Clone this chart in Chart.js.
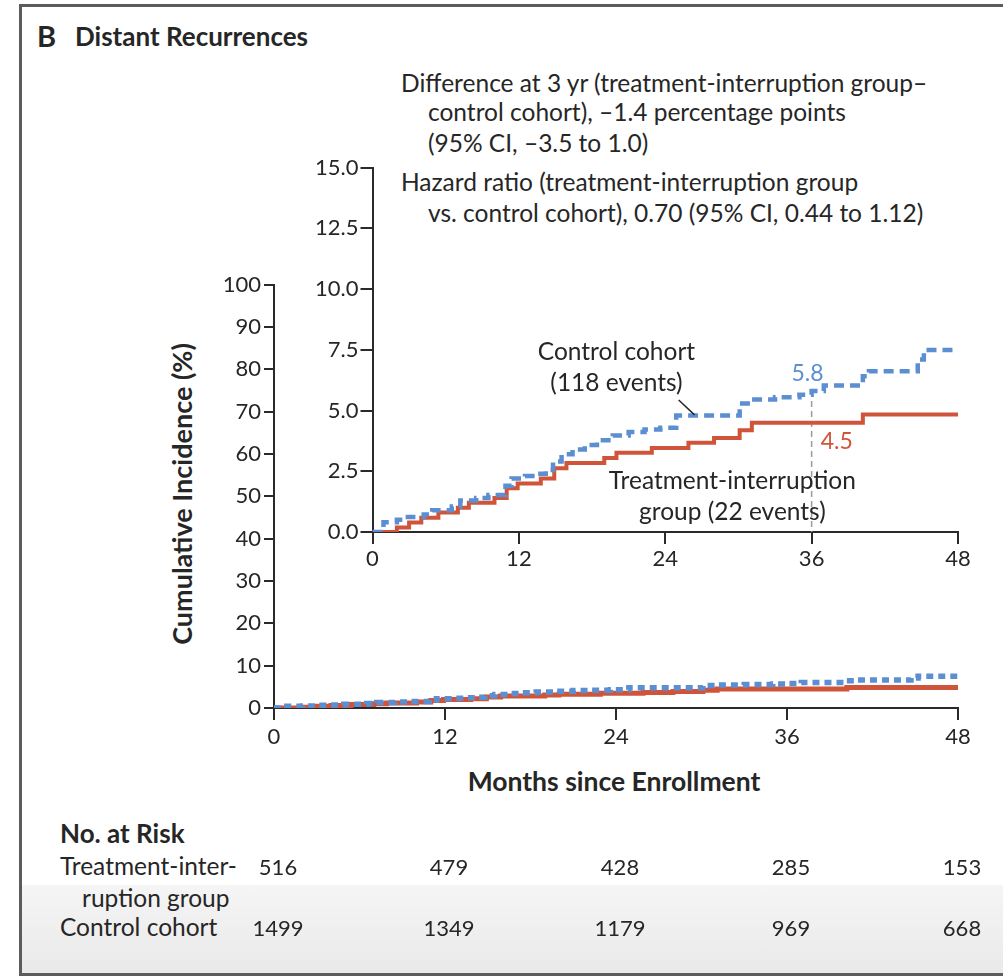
<!DOCTYPE html>
<html>
<head>
<meta charset="utf-8">
<title>Distant Recurrences</title>
<script src="https://cdn.jsdelivr.net/npm/chart.js@4.4.1/dist/chart.umd.min.js"></script>
<style>
  body { margin: 0; width: 1003px; height: 979px; position: relative; overflow: hidden; background: #fff;
         font-family: Lato, "Open Sans", sans-serif; color: #262626; }
  #frame { position: absolute; left: 19px; top: 4px; width: 1000px; height: 972px; box-sizing: border-box;
           border: 3px solid #5c5c5c; }
  #band { position: absolute; left: 22px; top: 885px; width: 990px; height: 88px;
          background: linear-gradient(#f5f5f5, #e9e9e9); }
  .t { position: absolute; white-space: nowrap; line-height: 1; }
  .note { font-size: 24.5px; }
  .row { font-size: 24.5px; }
  canvas { position: absolute; }
  #main { left: 0; top: 0; }
  #inset { left: 300px; top: 140px; }
</style>
</head>
<body>
<div id="band"></div>
<div id="frame"></div>

<div class="t" style="left:37px; top:21px; font-size:29px; font-weight:700;">B</div>
<div class="t" style="left:75px; top:23px; font-size:26px; font-weight:700;">Distant Recurrences</div>

<div class="t note" style="left:401px; top:71px;">Difference at 3 yr (treatment-interruption group–</div>
<div class="t note" style="left:428px; top:100px;">control cohort), –1.4 percentage points</div>
<div class="t note" style="left:428px; top:131px;">(95% CI, –3.5 to 1.0)</div>
<div class="t note" style="left:401px; top:170px;">Hazard ratio (treatment-interruption group</div>
<div class="t note" style="left:428px; top:201px;">vs. control cohort), 0.70 (95% CI, 0.44 to 1.12)</div>

<div class="t" style="left:181px; top:494px; font-size:27px; font-weight:700; transform:translate(-50%,-50%) rotate(-90deg);">Cumulative Incidence (%)</div>
<div class="t" style="left:614px; top:768px; font-size:26.5px; font-weight:700; transform:translateX(-50%);">Months since Enrollment</div>

<div class="t" style="left:60px; top:820px; font-size:26px; font-weight:700;">No. at Risk</div>
<div class="t row" style="left:60px; top:854px;">Treatment-inter-</div>
<div class="t row" style="left:82px; top:886px;">ruption group</div>
<div class="t row" style="left:60px; top:915px;">Control cohort</div>

<canvas id="main" width="1003" height="979"></canvas>
<canvas id="inset" width="700" height="440"></canvas>

<script>
// Months since enrollment shown on both x axes and in the risk table
const monthTicks = [0, 12, 24, 36, 48];
const mainPctTicks = [0, 10, 20, 30, 40, 50, 60, 70, 80, 90, 100];
const insetPctTicks = [0, 2.5, 5, 7.5, 10, 12.5, 15];

// Cumulative incidence (%) step functions: value reached at each month
const interruptionMonths = [0, 2.0, 3.0, 4.0, 5.4, 7.0, 7.9, 10.0, 11.0, 11.9, 13.8, 14.9, 15.9,
                            19.0, 20.0, 22.9, 25.9, 28.0, 30.1, 31.1, 40.2, 48];
const interruptionPct    = [0, 0.19, 0.39, 0.59, 0.80, 1.00, 1.20, 1.40, 1.80, 2.00, 2.20, 2.62, 2.84,
                            3.05, 3.26, 3.46, 3.67, 3.87, 4.19, 4.50, 4.84, 4.84];

const controlMonths = [0, 0.9, 2.0, 2.9, 4.2, 4.9, 6.5, 7.2, 8.5, 9.5, 10.9, 11.4, 12.5, 13.5, 14.2,
                       14.8, 15.5, 16.4, 17.4, 18.4, 19.7, 21.0, 22.3, 23.6, 24.9, 30.1, 31.0, 33.0,
                       35.0, 36.0, 37.0, 40.2, 40.7, 44.7, 45.2, 48];
const controlPct    = [0, 0.40, 0.50, 0.62, 0.72, 0.90, 1.05, 1.30, 1.40, 1.52, 1.90, 2.20, 2.30, 2.40, 2.55,
                       2.90, 3.20, 3.40, 3.58, 3.78, 3.97, 4.12, 4.22, 4.29, 4.79, 5.29, 5.45, 5.55,
                       5.65, 5.80, 6.03, 6.41, 6.62, 7.10, 7.49, 7.49];

// Number at risk at each tick month
const riskInterruption = [516, 479, 428, 285, 153];
const riskControl      = [1499, 1349, 1179, 969, 668];

const landmarkMonth = 36;

const RED = '#d0543a';
const BLUE = '#5b8fd2';
const INK = '#262626';
const AXIS = '#2a2a2a';
const FONT = 'Lato, "Open Sans", sans-serif';

const toPoints = (months, pct) => months.map((m, i) => ({ x: m, y: pct[i] }));
const valueAt = (months, pct, t) => {
  let v = pct[0];
  months.forEach((m, i) => { if (m <= t) v = pct[i]; });
  return v;
};

function axisStyle(tickList, tickLen, pad, fmt, fit) {
  return {
    type: 'linear',
    min: tickList[0],
    max: tickList[tickList.length - 1],
    afterBuildTicks: s => { s.ticks = tickList.map(v => ({ value: v })); },
    afterFit: fit,
    grid: { drawOnChartArea: false, drawTicks: true, tickLength: tickLen, tickWidth: 2, tickColor: AXIS, color: AXIS, lineWidth: 2 },
    border: { display: true, color: AXIS, width: 2 },
    ticks: { color: INK, font: { family: FONT, size: 22 }, padding: pad, callback: fmt, autoSkip: false, maxRotation: 0 }
  };
}

function lineSets(lineW, dash) {
  return [
    { label: 'Control cohort', data: toPoints(controlMonths, controlPct), stepped: 'before',
      borderColor: BLUE, borderWidth: lineW + 0.5, borderDash: dash, borderCapStyle: 'butt', pointRadius: 0, fill: false },
    { label: 'Treatment-interruption group', data: toPoints(interruptionMonths, interruptionPct), stepped: 'before',
      borderColor: RED, borderWidth: lineW, pointRadius: 0, fill: false }
  ];
}

// Number-at-risk rows aligned under the month ticks of the main x axis
const riskTable = {
  id: 'riskTable',
  afterDraw(chart) {
    const { ctx, scales: { x } } = chart;
    ctx.save();
    ctx.fillStyle = INK;
    ctx.font = '22px ' + FONT;
    ctx.textAlign = 'center';
    ctx.textBaseline = 'middle';
    monthTicks.forEach((m, i) => {
      const px = x.getPixelForValue(m) + 4;
      ctx.fillText(String(riskInterruption[i]), px, 868);
      ctx.fillText(String(riskControl[i]), px, 929);
    });
    ctx.restore();
  }
};

new Chart(document.getElementById('main'), {
  type: 'line',
  data: { datasets: lineSets(5, [7, 5]) },
  options: {
    responsive: false, animation: false,
    layout: { padding: { left: 214, right: 45, top: 284.5, bottom: 231 } },
    plugins: { legend: { display: false }, tooltip: { enabled: false } },
    scales: {
      x: axisStyle(monthTicks, 12, 4, v => String(v), s => { s.height = 40; }),
      y: axisStyle(mainPctTicks, 10, 3, v => String(v), s => { s.width = 60; })
    }
  },
  plugins: [riskTable]
});

// Landmark guide and curve labels in the enlarged panel
const insetNotes = {
  id: 'insetNotes',
  beforeDatasetsDraw(chart) {
    const { ctx, scales: { x, y } } = chart;
    const px = x.getPixelForValue(landmarkMonth);
    ctx.save();
    ctx.strokeStyle = '#9a9a9a';
    ctx.lineWidth = 1.5;
    ctx.setLineDash([6, 4]);
    ctx.beginPath();
    ctx.moveTo(px, y.getPixelForValue(valueAt(controlMonths, controlPct, landmarkMonth)));
    ctx.lineTo(px, y.getPixelForValue(0));
    ctx.stroke();
    ctx.restore();
  },
  afterDraw(chart) {
    const { ctx, scales: { x, y } } = chart;
    const ctrl36 = valueAt(controlMonths, controlPct, landmarkMonth);
    const intr36 = valueAt(interruptionMonths, interruptionPct, landmarkMonth);
    const px = x.getPixelForValue(landmarkMonth);
    ctx.save();
    ctx.textBaseline = 'middle';

    ctx.font = '23px ' + FONT;
    ctx.fillStyle = BLUE;
    ctx.textAlign = 'right';
    ctx.fillText(ctrl36.toFixed(1), px + 12, y.getPixelForValue(ctrl36) - 17);
    ctx.fillStyle = RED;
    ctx.textAlign = 'left';
    ctx.fillText(intr36.toFixed(1), px + 9, y.getPixelForValue(intr36) + 19);

    ctx.font = '24.5px ' + FONT;
    ctx.fillStyle = INK;
    ctx.textAlign = 'center';
    ctx.fillText('Control cohort', x.getPixelForValue(20), y.getPixelForValue(7.4));
    ctx.fillText('(118 events)', x.getPixelForValue(20), y.getPixelForValue(6.13));
    ctx.fillText('Treatment-interruption', x.getPixelForValue(29.5), y.getPixelForValue(2.1));
    ctx.fillText('group (22 events)', x.getPixelForValue(29.5), y.getPixelForValue(0.82));

    ctx.strokeStyle = INK;
    ctx.lineWidth = 1.5;
    ctx.beginPath();
    ctx.moveTo(x.getPixelForValue(25.1), y.getPixelForValue(5.43));
    ctx.lineTo(x.getPixelForValue(26.4), y.getPixelForValue(4.82));
    ctx.stroke();
    ctx.restore();
  }
};

new Chart(document.getElementById('inset'), {
  type: 'line',
  data: { datasets: lineSets(4, [10, 6]) },
  options: {
    responsive: false, animation: false,
    layout: { padding: { left: 12.5, right: 42, top: 27.5, bottom: 8 } },
    plugins: { legend: { display: false }, tooltip: { enabled: false } },
    scales: {
      x: axisStyle(monthTicks, 12, 2, v => String(v), s => { s.height = 40; }),
      y: axisStyle(insetPctTicks, 12, 2, v => Number(v).toFixed(1), s => { s.width = 60; })
    }
  },
  plugins: [insetNotes]
});
</script>
</body>
</html>
